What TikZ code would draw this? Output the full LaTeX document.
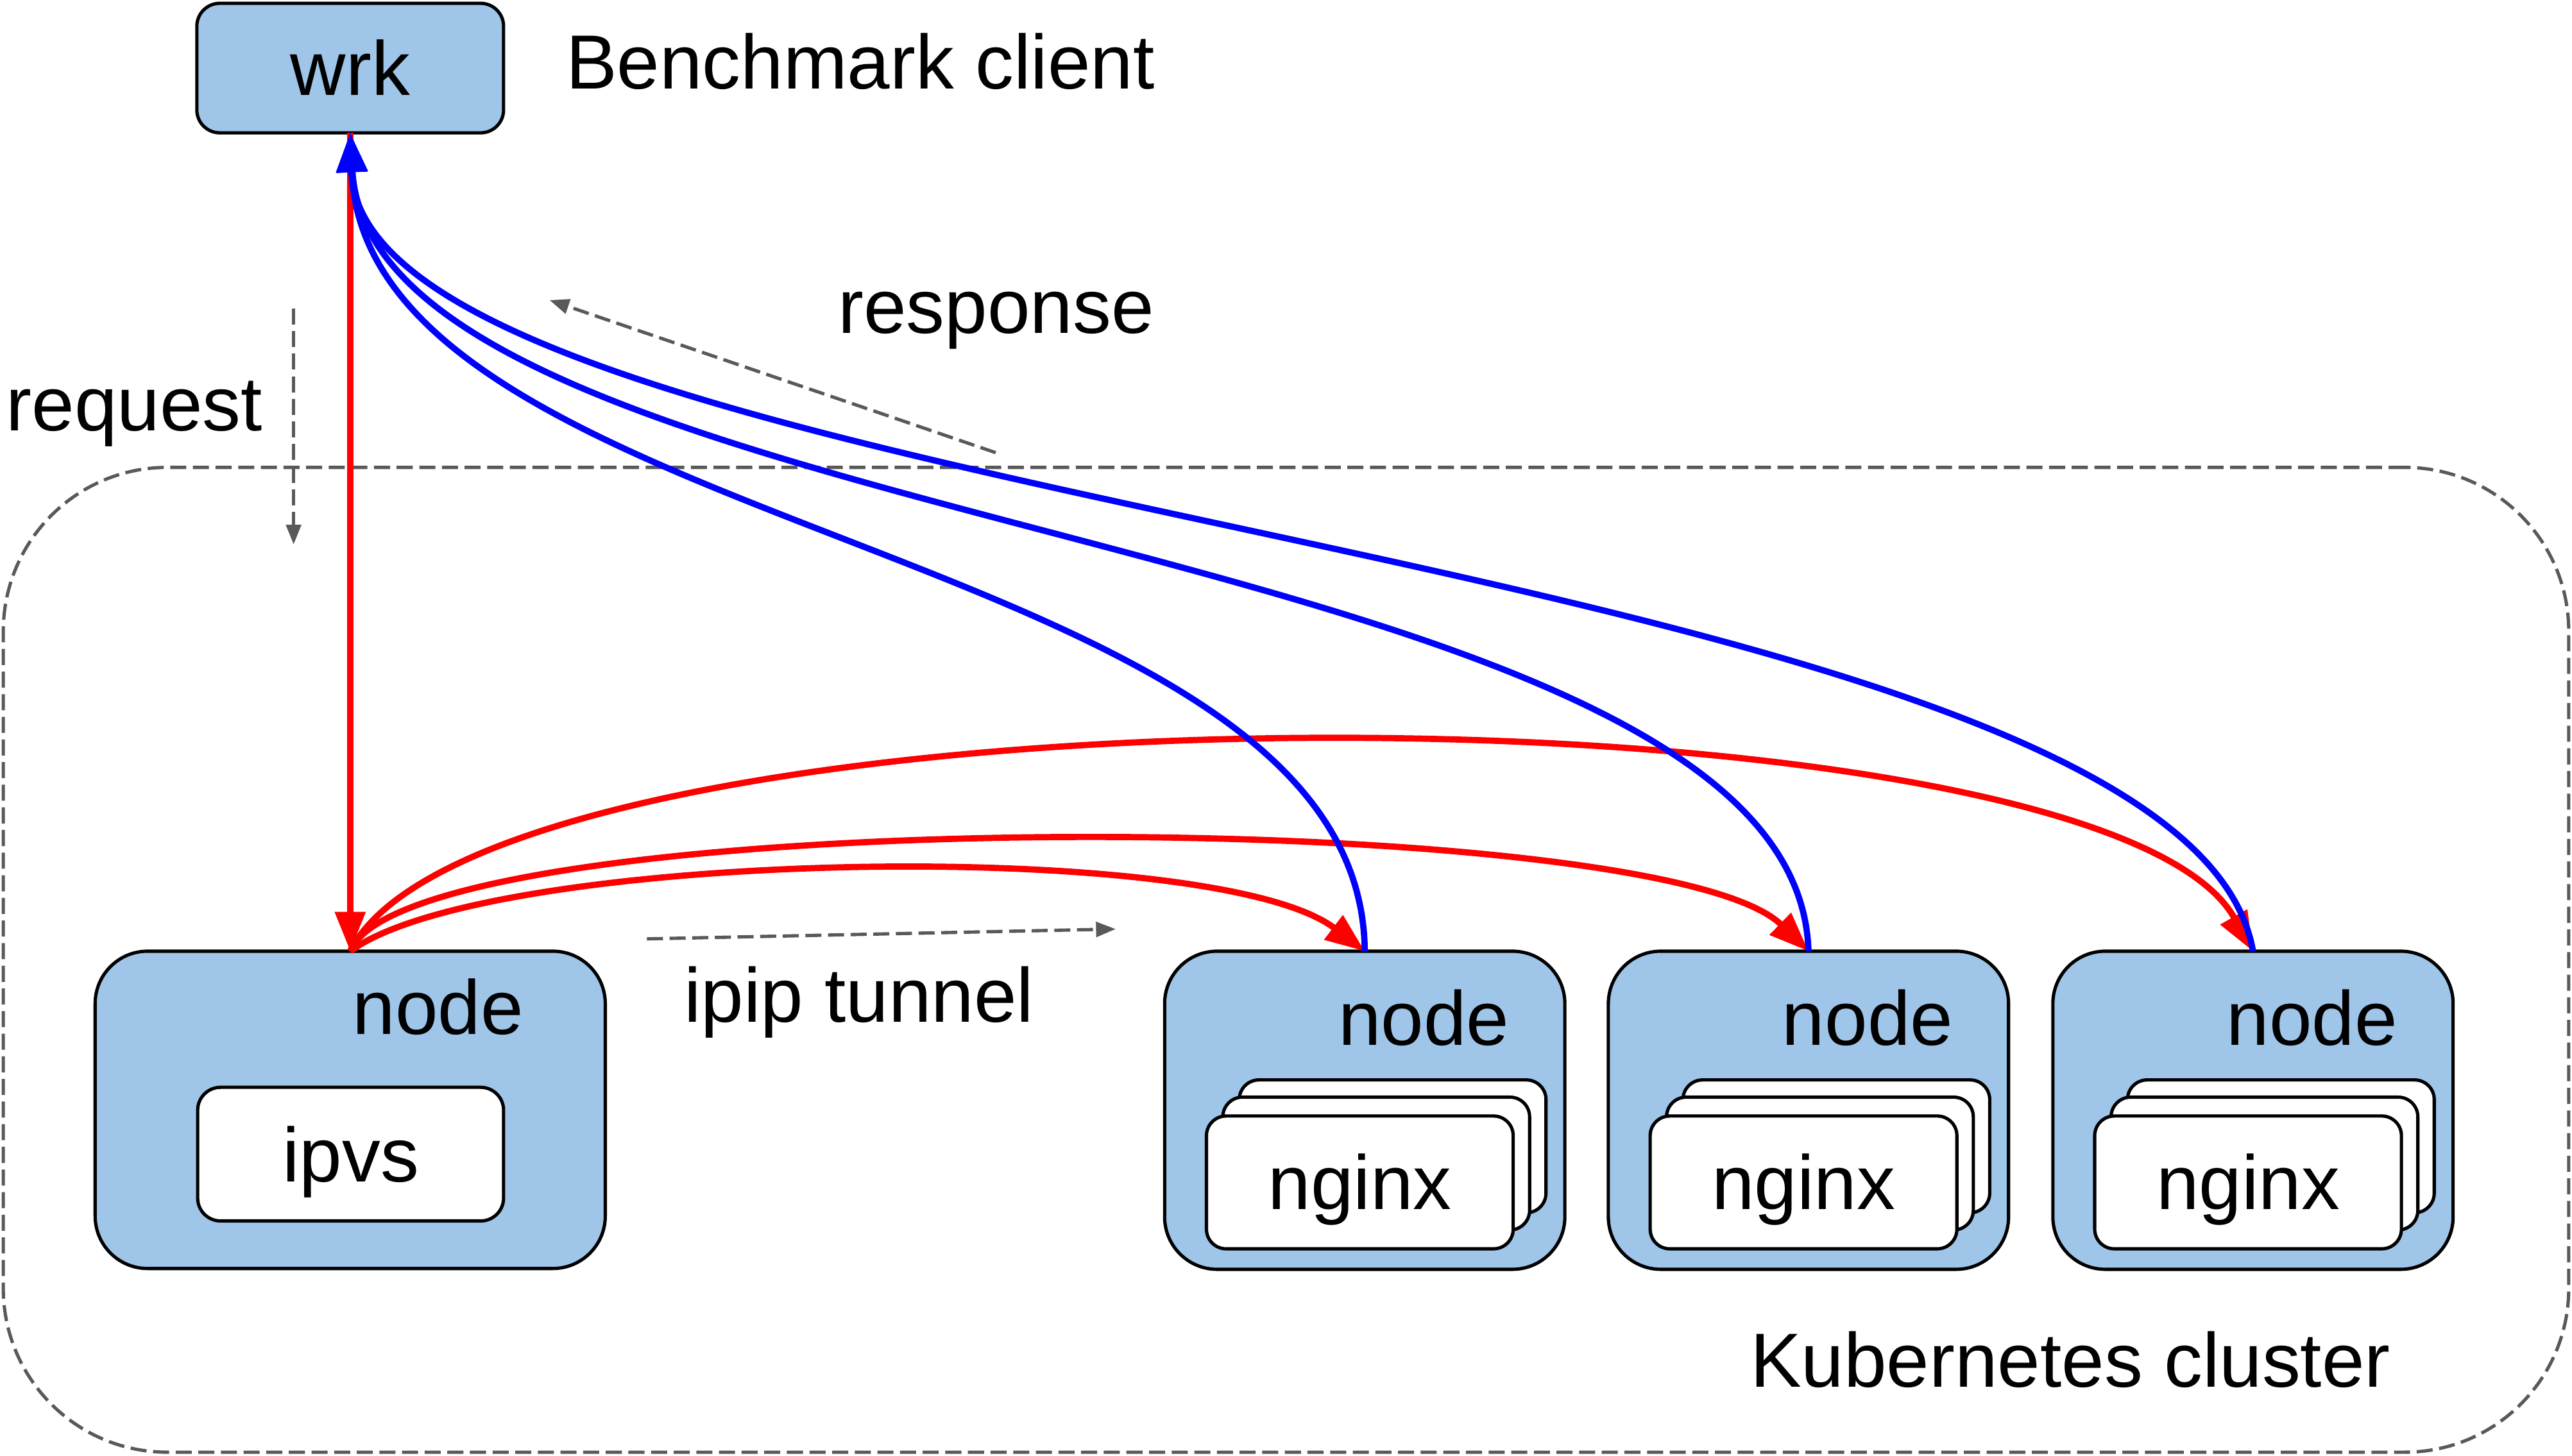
\documentclass[tikz,border=0pt]{standalone}
\usepackage{fontspec}
\setmainfont{Liberation Sans}
\usetikzlibrary{arrows.meta}
\definecolor{nodeblue}{HTML}{9FC5E8}
\definecolor{dgray}{HTML}{595959}
\definecolor{pred}{HTML}{FF0000}
\definecolor{pblue}{HTML}{0000FF}
\begin{document}
\begin{tikzpicture}[x=0.5pt,y=-0.5pt,
  every node/.style={inner sep=0pt,outer sep=0pt},
  txt/.style={font=\fontsize{23.4}{28}\selectfont},
  lbl/.style={txt,anchor=base west},
  bluebox/.style={draw=black,line width=1pt,fill=nodeblue,rounded corners=16pt},
  hostbox/.style={bluebox,minimum width=122pt,minimum height=97pt},
  podbox/.style={draw=black,line width=1pt,fill=white,rounded corners=6pt,minimum width=93.5pt,minimum height=40.5pt},
  clusterbox/.style={draw=dgray,line width=1pt,dash pattern=on 4.9pt off 2pt,rounded corners=50pt},
  redline/.style={draw=pred,line width=1.9pt,-{Triangle[length=12pt,width=9pt]}},
  blueline/.style={draw=pblue,line width=1.9pt,-{Triangle[length=12pt,width=9pt]}},
  hint/.style={draw=dgray,line width=1pt,dash pattern=on 4.9pt off 2pt,-{Triangle[length=6pt,width=4.5pt]}}
]
\useasboundingbox (0,0) rectangle (1568,887.45);

% cluster
\node[clusterbox,minimum width=782pt,minimum height=300.25pt] (cluster) at (784,585.25) {};
\node[lbl] (kc) at (1067,845.6) {Kubernetes cluster};

% client
\node[bluebox,rounded corners=7pt,minimum width=93.5pt,minimum height=39.5pt] (wrk) at (213.5,41.5) {};
\node[txt,anchor=base] (wrkt) at (213.5,58) {wrk};
\node[lbl] (bc) at (345,54) {Benchmark client};

% load balancer node
\node[bluebox,minimum width=155.5pt,minimum height=96.75pt] (n1) at (213.5,676.75) {};
\node[lbl] (n1t) at (215,630.5) {node};
\node[draw=black,line width=1pt,fill=white,rounded corners=7pt,minimum width=93.25pt,minimum height=40.75pt] (ipvs) at (213.75,703.75) {};
\node[txt,anchor=base] (ipvst) at (213.75,720.5) {ipvs};

% backend nodes
\foreach \i/\cx in {2/832,3/1102.5,4/1373.5}{
  \node[hostbox] (n\i) at (\cx,677) {};
  \node[lbl] (n\i t) at (\cx-16,637.5) {node};
  \node[podbox] (p\i c) at (\cx+17,699) {};
  \node[podbox] (p\i b) at (\cx+7,709.5) {};
  \node[podbox] (p\i a) at (\cx-3,721) {};
  \node[txt,anchor=base] (p\i t) at (\cx-3,737.5) {nginx};
}

% labels
\node[lbl] (req) at (3.8,262.7) {request};
\node[lbl] (resp) at (511,203) {response};
\node[lbl] (ipip) at (417,623.3) {ipip tunnel};

% hint arrows
\coordinate (rq1) at (179,188);
\coordinate (rq2) at (179,332);
\coordinate (rs1) at (607,276);
\coordinate (rs2) at (335,183);
\coordinate (ip1) at (394.4,572.5);
\coordinate (ip2) at (680.2,566.5);
\draw[hint] (rq1) -- (rq2);
\draw[hint] (rs1) -- (rs2);
\draw[hint] (ip1) -- (ip2);

% request path (red)
\draw[redline] (wrk.south) -- (n1.north);
\draw[redline] (n1.north) .. controls (298,518) and (740,510) .. (n2.north);
\draw[redline] (n1.north) .. controls (250,490) and (1010,490) .. (n3.north);
\draw[redline] (n1.north) .. controls (300,410) and (1278,410) .. (n4.north);

% response path (blue)
\draw[blueline] (n2.north) .. controls (830,330) and (223,330) .. (wrk.south);
\draw[blueline] (n3.north) .. controls (1095,320) and (228,332) .. (wrk.south);
\draw[blueline] (n4.north) .. controls (1330,330) and (221,315) .. (wrk.south);
\end{tikzpicture}
\end{document}
